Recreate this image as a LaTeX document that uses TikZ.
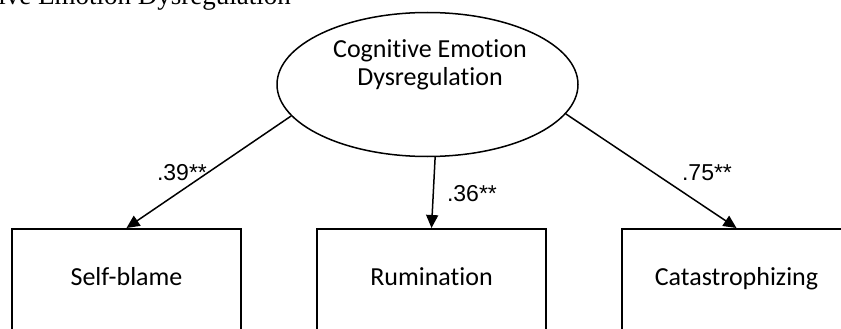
\documentclass[tikz,border=0pt]{standalone}
\usepackage{fontspec}
\setmainfont{Liberation Serif}
\newfontfamily\gillfont[Ligatures=NoCommon]{Carlito}
\newfontfamily\arialfont{Liberation Sans}
\usetikzlibrary{shapes.geometric,arrows.meta}
\begin{document}
\begin{tikzpicture}[x=1pt,y=-1pt,
  boxnode/.style={draw,line width=1.5pt,minimum width=229pt,minimum height=140pt,anchor=north,inner sep=0pt},
  boxtext/.style={font=\gillfont\fontsize{26}{30}\selectfont,anchor=base,inner sep=0pt},
  coef/.style={font=\arialfont\fontsize{23}{27}\selectfont,inner sep=0pt},
  arr/.style={line width=1.5pt,-{Triangle[length=13pt,width=12pt]}}]
\useasboundingbox (0,0) rectangle (841,329);
\clip (0,0) rectangle (841,329);
% cut-off caption at top
\node[font=\fontsize{27}{30}\selectfont,anchor=base east,inner sep=0pt] (title) at (291,5) {Cognitive Emotion Dysregulation};
% latent variable
\node[draw,ellipse,line width=1.5pt,minimum width=301pt,minimum height=144pt,inner sep=0pt] (ell) at (427.5,84.5) {};
\node[font=\gillfont\fontsize{26}{27.5}\selectfont,align=center,anchor=base,inner sep=0pt] (elltext) at (430,85) {Cognitive Emotion\\Dysregulation};
% indicators
\node[boxnode] (b1) at (126.5,228) {};
\node[boxnode] (b2) at (431.5,228) {};
\node[boxnode] (b3) at (736.5,228) {};
\node[boxtext] (t1) at (126.5,285) {Self-blame};
\node[boxtext] (t2) at (431.5,285) {Rumination};
\node[boxtext] (t3) at (736.5,285) {Catastrophizing};
% paths
\draw[arr] (ell.193) -- (b1.north);
\draw[arr] (ell.276) -- (b2.north);
\draw[arr] (ell.348.5) -- (b3.north);
\node[coef] (c1) at (182,173) {.39**};
\node[coef] (c2) at (472,194) {.36**};
\node[coef] (c3) at (707,173) {.75**};
\end{tikzpicture}
\end{document}
